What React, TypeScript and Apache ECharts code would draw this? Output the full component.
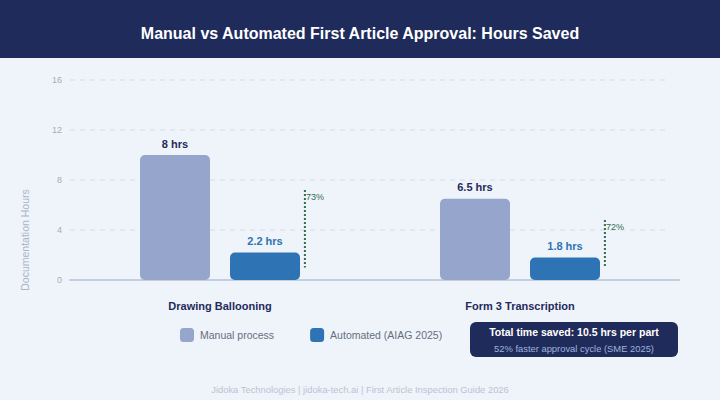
import React, { useEffect, useRef } from "react";
import * as echarts from "echarts";

const categories = ["Drawing Ballooning", "Form 3 Transcription"];
const manualHours = [10, 6.5];
const manualLabels = ["8 hrs", "6.5 hrs"];
const automatedHours = [2.2, 1.8];
const automatedLabels = ["2.2 hrs", "1.8 hrs"];
// reduction markers: [category index, low, high, label]
const reductionMarks: [number, number, number, string][] = [
  [0, 1, 7.2, "73%"],
  [1, 1, 4.8, "72%"],
];
const yTicks = { min: 0, max: 16, interval: 4 };

const NAVY = "#1f2b5b";
const BG = "#eff3fa";
const FONT = "'Liberation Sans', Arial, Helvetica, sans-serif";

export default function App() {
  const ref = useRef<HTMLDivElement>(null);
  useEffect(() => {
    if (!ref.current) return;
    const chart = echarts.init(ref.current, null, { renderer: "svg" });
    chart.setOption({
      animation: false,
      backgroundColor: BG,
      textStyle: { fontFamily: FONT },
      grid: { left: 70, right: 50, top: 80, bottom: 120 },
      legend: {
        left: 180,
        top: 328,
        padding: 0,
        itemWidth: 14,
        itemHeight: 14,
        itemGap: 36,
        icon: "roundRect",
        textStyle: { color: "#666f80", fontSize: 10.5, fontFamily: FONT, padding: [0, 0, 0, 1] },
        data: ["Manual process", "Automated (AIAG 2025)"],
      },
      xAxis: {
        type: "category",
        data: categories,
        axisLine: { lineStyle: { color: "#c2cfe0", width: 2 } },
        axisTick: { show: false },
        axisLabel: {
          color: NAVY,
          fontWeight: "bold",
          fontSize: 11,
          margin: 20,
          fontFamily: FONT,
        },
      },
      yAxis: {
        type: "value",
        min: yTicks.min,
        max: yTicks.max,
        interval: yTicks.interval,
        axisLine: { show: false },
        axisTick: { show: false },
        axisLabel: { color: "#a3adbd", fontSize: 9, margin: 8, fontFamily: FONT },
        splitLine: { lineStyle: { color: "#dde5f0", type: [5, 5], width: 1.5 } },
      },
      series: [
        {
          name: "Manual process",
          type: "bar",
          data: manualHours,
          barWidth: 70,
          barGap: "28.6%",
          itemStyle: { color: "#95a5cc", borderRadius: 5 },
          label: {
            show: true,
            position: "top",
            distance: 6,
            color: NAVY,
            fontWeight: "bold",
            fontSize: 11,
            fontFamily: FONT,
            formatter: (p: any) => manualLabels[p.dataIndex],
          },
        },
        {
          name: "Automated (AIAG 2025)",
          type: "bar",
          data: automatedHours,
          barWidth: 70,
          itemStyle: { color: "#2e74b5", borderRadius: 5 },
          label: {
            show: true,
            position: "top",
            distance: 6,
            color: "#2e74b5",
            fontWeight: "bold",
            fontSize: 11,
            fontFamily: FONT,
            formatter: (p: any) => automatedLabels[p.dataIndex],
          },
        },
        {
          type: "custom",
          data: reductionMarks,
          silent: true,
          z: 5,
          renderItem: (params: any, api: any) => {
            const cx = api.coord([api.value(0), 0])[0];
            const bw = api.size([1, 0])[0];
            const x = cx + bw * 0.283;
            const yLow = api.coord([api.value(0), api.value(1)])[1];
            const yHigh = api.coord([api.value(0), api.value(2)])[1];
            const lbl = reductionMarks[params.dataIndex][3];
            return {
              type: "group",
              children: [
                {
                  type: "line",
                  shape: { x1: x, y1: yHigh, x2: x, y2: yLow },
                  style: { stroke: "#2f6e4f", lineWidth: 2, lineDash: [2, 2] },
                },
                {
                  type: "text",
                  x: x + 1,
                  y: yHigh + 7,
                  style: {
                    text: lbl,
                    fill: "#2f6e4f",
                    fontSize: 9,
                    fontFamily: FONT,
                    align: "left",
                    verticalAlign: "middle",
                  },
                },
              ],
            };
          },
        },
      ],
      graphic: [
        {
          type: "rect",
          left: 0,
          top: 0,
          z: 0,
          shape: { width: 720, height: 58 },
          style: { fill: NAVY },
        },
        {
          type: "rect",
          x: 669,
          y: 279,
          shape: { width: 11, height: 2 },
          style: { fill: "#c2cfe0" },
        },
        {
          type: "text",
          x: 360,
          y: 33,
          style: {
            text: "Manual vs Automated First Article Approval: Hours Saved",
            fill: "#ffffff",
            fontSize: 16,
            fontWeight: "bold",
            fontFamily: FONT,
            align: "center",
            verticalAlign: "middle",
          },
        },
        {
          type: "text",
          x: 25,
          y: 240,
          rotation: Math.PI / 2,
          style: {
            text: "Documentation Hours",
            fill: "#aab5c8",
            fontSize: 10.5,
            fontFamily: FONT,
            align: "center",
            verticalAlign: "middle",
          },
        },
        {
          type: "rect",
          x: 470,
          y: 322,
          shape: { width: 208, height: 35, r: 6 },
          style: { fill: NAVY },
        },
        {
          type: "text",
          x: 574,
          y: 332,
          style: {
            text: "Total time saved: 10.5 hrs per part",
            fill: "#ffffff",
            fontSize: 10.5,
            fontWeight: "bold",
            fontFamily: FONT,
            align: "center",
            verticalAlign: "middle",
          },
        },
        {
          type: "text",
          x: 574,
          y: 348,
          style: {
            text: "52% faster approval cycle (SME 2025)",
            fill: "#9fb3de",
            fontSize: 9.4,
            fontFamily: FONT,
            align: "center",
            verticalAlign: "middle",
          },
        },
        {
          type: "text",
          x: 360,
          y: 389,
          style: {
            text: "Jidoka Technologies | jidoka-tech.ai | First Article Inspection Guide 2026",
            fill: "#b9c4d6",
            fontSize: 9.4,
            fontFamily: FONT,
            align: "center",
            verticalAlign: "middle",
          },
        },
      ],
    });
    return () => chart.dispose();
  }, []);
  return <div ref={ref} style={{ width: 720, height: 400, position: "fixed", left: 0, top: 0 }} />;
}
